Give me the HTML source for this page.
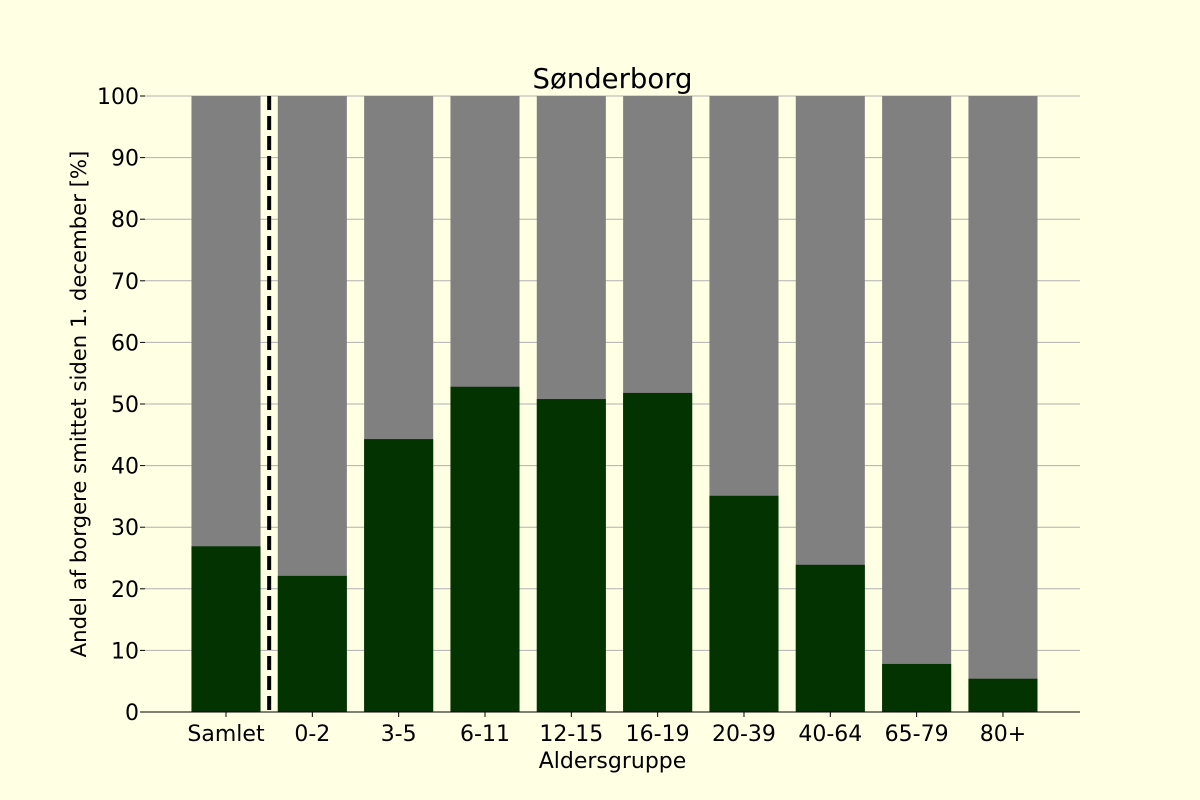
<!DOCTYPE html>
<html><head><meta charset="utf-8"><style>
html,body{margin:0;padding:0;background:#ffffe4;}
svg{display:block;font-family:"DejaVu Sans","Liberation Sans",sans-serif;}
</style></head><body>
<svg id="chart" width="1200" height="800" xmlns="http://www.w3.org/2000/svg">
<rect width="1200" height="800" fill="#ffffe4"/>
<g id="grid"></g><g id="bars"></g><g id="axes"></g>
</svg>
<script>
const categories = ["Samlet","0-2","3-5","6-11","12-15","16-19","20-39","40-64","65-79","80+"];
const infected = [26.9,22.1,44.3,52.8,50.8,51.8,35.1,23.9,7.8,5.4];
const totals = [100,100,100,100,100,100,100,100,100,100];
const yTicks = [0,10,20,30,40,50,60,70,80,90,100];

const NS="http://www.w3.org/2000/svg";
const x0=145,x1=1080,yb=712,yt=96;
const step=86.33;
const xc=i=>226+i*step;
const yS=v=>yb-(v/100)*(yb-yt);
const bw=step*0.8;
function mk(t,a,p){const e=document.createElementNS(NS,t);for(const k in a)e.setAttribute(k,a[k]);p.appendChild(e);return e;}
const grid=document.getElementById('grid'),bars=document.getElementById('bars'),axes=document.getElementById('axes');
yTicks.forEach(v=>{
  const l=mk('line',{x1:x0,x2:x1,y1:yS(v),y2:yS(v),stroke:'#b0b0b0','stroke-width':1},grid);
  
  
  const tk=mk('line',{x1:x0-5,x2:x0,y1:yS(v),y2:yS(v),stroke:'#000'},axes);
  
  
  const t=mk('text',{x:x0-6,y:yS(v)+8,'text-anchor':'end','font-size':22},axes);t.textContent=v;
  
  
});
categories.forEach((c,i)=>{
  const cx=xc(i);
  const g=mk('rect',{x:cx-bw/2,y:yS(totals[i]),width:bw,height:yS(0)-yS(totals[i]),fill:'#808080'},bars);
  
  
  const r=mk('rect',{x:cx-bw/2,y:yS(infected[i]),width:bw,height:yS(0)-yS(infected[i]),fill:'#033300'},bars);
  
  
  const tk=mk('line',{x1:cx,x2:cx,y1:yb,y2:yb+5,stroke:'#000'},axes);
  
  
  const t=mk('text',{x:cx,y:yb+29,'text-anchor':'middle','font-size':22},axes);t.textContent=c;
  
  
});
const dx=(xc(0)+xc(1))/2;
const d=mk('line',{x1:dx,x2:dx,y1:yt,y2:yb,stroke:'#000','stroke-width':4,'stroke-dasharray':'14,6'},axes);


const ax=mk('line',{x1:x0,x2:x1,y1:yb,y2:yb,stroke:'#000','stroke-width':1},axes);


const ti=mk('text',{x:(x0+x1)/2,y:88,'text-anchor':'middle','font-size':27.5},axes);ti.textContent='Sønderborg';


const xl=mk('text',{x:(x0+x1)/2,y:768,'text-anchor':'middle','font-size':22},axes);xl.textContent='Aldersgruppe';


const yl=mk('text',{x:0,y:0,'text-anchor':'middle','font-size':21.2,transform:'translate(86,404) rotate(-90)'},axes);yl.textContent='Andel af borgere smittet siden 1. december [%]';


</script>
</body></html>
